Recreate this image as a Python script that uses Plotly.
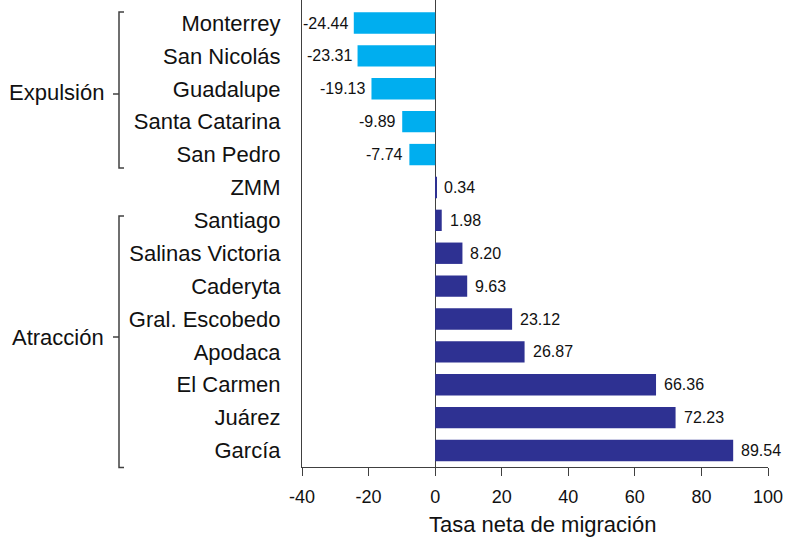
import plotly.graph_objects as go

municipios = ["Monterrey", "San Nicolás", "Guadalupe", "Santa Catarina", "San Pedro", "ZMM",
              "Santiago", "Salinas Victoria", "Caderyta", "Gral. Escobedo", "Apodaca",
              "El Carmen", "Juárez", "García"]
tasas = [-24.44, -23.31, -19.13, -9.89, -7.74, 0.34, 1.98, 8.20, 9.63, 23.12, 26.87, 66.36, 72.23, 89.54]
x_ticks = [-40, -20, 0, 20, 40, 60, 80, 100]
grupos = ["Expulsión", "Atracción"]
eje_titulo = "Tasa neta de migración"

COL_NEG = "#00AEEF"
COL_POS = "#2E3192"
LINE = "#404040"
FONT = "Liberation Sans, Arial, sans-serif"

W, H = 786, 539
L, R, T, B = 302, 18, 0, 72
PW, PH = W - L - R, H - T - B


def px_x(p):
    return (p - L) / PW


def px_y(p):
    return (H - B - p) / PH


fig = go.Figure()
fig.add_trace(go.Bar(
    x=tasas, y=municipios, orientation="h", width=0.65,
    marker=dict(color=[COL_NEG if v < 0 else COL_POS for v in tasas], line=dict(width=0)),
    hoverinfo="x+y",
))

annotations = []
for m, v in zip(municipios, tasas):
    annotations.append(dict(
        x=v, y=m, xref="x", yref="y", text=f"{v:.2f}", showarrow=False,
        xanchor="left" if v >= 0 else "right", xshift=6 if v >= 0 else -4,
        yanchor="middle", font=dict(family=FONT, size=16, color="#111111"),
    ))

# group labels and brackets
brackets = [(12, 168, 94, 92), (216, 467.5, 337, 337)]
shapes = []
for g, (top, bot, mid, ly) in zip(grupos, brackets):
    path = (f"M {px_x(124)},{px_y(top)} L {px_x(119)},{px_y(top)} "
            f"L {px_x(119)},{px_y(bot)} L {px_x(124)},{px_y(bot)}")
    shapes.append(dict(type="path", xref="paper", yref="paper", path=path,
                       line=dict(color=LINE, width=1.5)))
    shapes.append(dict(type="line", xref="paper", yref="paper",
                       x0=px_x(113), x1=px_x(119), y0=px_y(mid), y1=px_y(mid),
                       line=dict(color=LINE, width=1.5)))
    annotations.append(dict(
        x=px_x(106), y=px_y(ly), xref="paper", yref="paper", text=g, showarrow=False,
        xanchor="right", yanchor="middle", font=dict(family=FONT, size=22, color="#111111"),
    ))

annotations.append(dict(
    x=px_x(542), y=px_y(524), xref="paper", yref="paper", text=eje_titulo, showarrow=False,
    xanchor="center", yanchor="middle", font=dict(family=FONT, size=22, color="#111111"),
))

fig.update_layout(
    width=W, height=H,
    margin=dict(l=L, r=R, t=T, b=B, pad=0),
    plot_bgcolor="white", paper_bgcolor="white",
    showlegend=False,
    bargap=0.35,
    annotations=annotations,
    shapes=shapes,
    font=dict(family=FONT, color="#111111"),
)
fig.update_xaxes(
    range=[-40, 100], tickvals=x_ticks, ticktext=[str(t) for t in x_ticks],
    showgrid=False, zeroline=True, zerolinecolor=LINE, zerolinewidth=1.2,
    showline=True, linecolor=LINE, linewidth=1.2,
    ticks="outside", ticklen=8, tickcolor=LINE, tickwidth=1.2,
    ticklabelstandoff=5,
    tickfont=dict(family=FONT, size=18, color="#111111"),
)
fig.update_yaxes(
    type="category", categoryorder="array", categoryarray=municipios,
    range=[13.5, -0.7],
    showgrid=False, zeroline=False,
    showline=True, linecolor=LINE, linewidth=1.2,
    ticks="", ticklabelstandoff=16,
    tickfont=dict(family=FONT, size=22, color="#111111"),
)

fig.write_html(
    "out.html",
    config={"displayModeBar": False},
    post_script="document.body.style.margin='0';document.body.style.overflow='hidden';",
)
